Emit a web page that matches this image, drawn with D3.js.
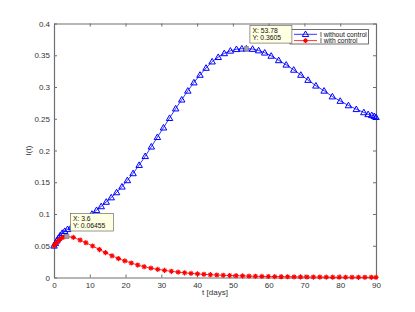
<!DOCTYPE html>
<html lang="en">
<head>
<meta charset="UTF-8">
<title>I(t) with and without control</title>
<script src="https://d3js.org/d3.v7.min.js"></script>
<style>
  body { margin: 0; background: #fff; font-family: "Liberation Sans", Arial, sans-serif; }
  .axis path, .axis line { stroke: #6e6e6e; }
  .axis text { fill: #333; font-size: 8px; font-family: "Liberation Sans", Arial, sans-serif; }
  .tip text { font-size: 6.8px; fill: #111; }
</style>
</head>
<body>
<svg width="415" height="312"></svg>
<script>
// I without control (t in days, I fraction)
const tBlue = [0, 0.4, 0.8, 1.2, 1.7, 2.3, 3.0, 3.8, 4.8, 5.9, 7.0, 8.2, 9.4, 10.6, 11.9, 13.2,
  14.6, 16.0, 17.5, 19.0, 20.5, 22.1, 23.8, 25.5, 27.2, 28.9, 30.6, 32.3, 34.0, 35.7, 37.4,
  39.1, 40.8, 42.5, 44.2, 45.9, 47.6, 49.3, 51.0, 52.5, 53.78, 55.5, 57.2, 58.9, 60.7, 62.8,
  64.9, 67.0, 69.0, 71.0, 73.2, 75.5, 77.8, 80.0, 82.3, 84.5, 86.6, 87.8, 88.8, 89.5, 90];
const iBlue = [0.050, 0.054, 0.058, 0.062, 0.066, 0.070, 0.073, 0.076, 0.079, 0.082, 0.086,
  0.090, 0.095, 0.100, 0.106, 0.112, 0.119, 0.126, 0.134, 0.143, 0.153, 0.164, 0.177, 0.191,
  0.206, 0.221, 0.236, 0.251, 0.266, 0.280, 0.294, 0.307, 0.319, 0.330, 0.340, 0.347, 0.353,
  0.357, 0.3595, 0.3603, 0.3605, 0.3598, 0.3575, 0.354, 0.349, 0.342, 0.335, 0.327, 0.319,
  0.311, 0.302, 0.294, 0.285, 0.278, 0.271, 0.265, 0.260, 0.257, 0.2555, 0.254, 0.2525];

// I with control
const tRed = [0, 0.35, 0.8, 1.4, 2.1, 2.8, 3.6, 5.4, 7.3, 8.9, 10.8, 12.7, 14.4, 16.2, 18.0,
  19.8, 21.6, 23.4, 25.2, 27.1, 29.0, 30.9, 32.8, 34.7, 36.5, 38.3, 40.1, 41.9, 43.7, 45.5,
  47.3, 49.1, 50.9, 52.7, 54.5, 56.3, 58.1, 59.9, 61.7, 63.5, 65.3, 67.1, 68.9, 70.7, 72.5,
  74.3, 76.1, 77.9, 79.7, 81.5, 83.3, 85.1, 86.9, 88.7, 90];
const iRed = [0.050, 0.0525, 0.0555, 0.059, 0.062, 0.0638, 0.06455, 0.0632, 0.059, 0.0548,
  0.0496, 0.044, 0.0392, 0.0342, 0.0298, 0.0262, 0.0228, 0.0196, 0.017, 0.0147, 0.0128,
  0.0112, 0.0098, 0.0085, 0.0074, 0.0065, 0.0057, 0.005, 0.0044, 0.0039, 0.0035, 0.0031,
  0.0028, 0.0025, 0.0022, 0.002, 0.0018, 0.0016, 0.0014, 0.0013, 0.0012, 0.001, 0.0009,
  0.0008, 0.0007, 0.0007, 0.0006, 0.0005, 0.0005, 0.0004, 0.0004, 0.0003, 0.0003, 0.0003, 0.0002];

const xTicks = [0, 10, 20, 30, 40, 50, 60, 70, 80, 90];
const yTicks = [0, 0.05, 0.1, 0.15, 0.2, 0.25, 0.3, 0.35, 0.4];
const yTickLabels = ['0', '0.05', '0.1', '0.15', '0.2', '0.25', '0.3', '0.35', '0.4'];
const seriesNames = ['I without control', 'I with control'];
const tips = [{ t: 53.78, i: 0.3605, lx: '53.78', ly: '0.3605' }, { t: 3.6, i: 0.06455, lx: '3.6', ly: '0.06455' }];

const svg = d3.select('svg');
const margin = { top: 23.5, right: 39, bottom: 34.5, left: 54 };
const width = 415 - margin.left - margin.right;
const height = 312 - margin.top - margin.bottom;
const g = svg.append('g').attr('transform', `translate(${margin.left},${margin.top})`);

const x = d3.scaleLinear().domain([0, 90]).range([0, width]);
const y = d3.scaleLinear().domain([0, 0.4]).range([height, 0]);

// axes, ticks pointing inward (matlab box)
g.append('g').attr('class', 'axis').attr('transform', `translate(0,${height})`)
  .call(d3.axisBottom(x).tickValues(xTicks).tickSizeInner(-3).tickSizeOuter(0).tickPadding(5));
g.append('g').attr('class', 'axis')
  .call(d3.axisLeft(y).tickValues(yTicks).tickFormat((d, i) => yTickLabels[i]).tickSizeInner(-3).tickSizeOuter(0).tickPadding(4));
g.append('g').attr('class', 'axis')
  .call(d3.axisTop(x).tickValues(xTicks).tickSizeInner(-3).tickSizeOuter(0).tickFormat(''));
g.append('g').attr('class', 'axis').attr('transform', `translate(${width},0)`)
  .call(d3.axisRight(y).tickValues(yTicks).tickSizeInner(-3).tickSizeOuter(0).tickFormat(''));
g.selectAll('.axis .domain').attr('stroke-width', 1.2);

const line = d3.line().x(d => x(d[0])).y(d => y(d[1]));
const blue = tBlue.map((t, k) => [t, iBlue[k]]);
const red = tRed.map((t, k) => [t, iRed[k]]);

const tri = d3.symbol().type(d3.symbolTriangle).size(18);
function star(sel, s) {
  sel.append('path')
    .attr('d', `M${-s},0H${s}M0,${-s}V${s}M${-s * 0.7},${-s * 0.7}L${s * 0.7},${s * 0.7}M${-s * 0.7},${s * 0.7}L${s * 0.7},${-s * 0.7}`)
    .attr('stroke', '#ff0000').attr('stroke-width', 1.1).attr('fill', 'none');
}

g.append('path').datum(blue).attr('d', line).attr('fill', 'none').attr('stroke', '#0000ff').attr('stroke-width', 0.8);
g.append('path').datum(red).attr('d', line).attr('fill', 'none').attr('stroke', '#ff0000').attr('stroke-width', 0.8);

g.selectAll('.tri').data(blue).enter().append('path')
  .attr('transform', d => `translate(${x(d[0])},${y(d[1]) + 0.5})`)
  .attr('d', tri).attr('fill', 'none').attr('stroke', '#0000ff').attr('stroke-width', 1);

g.selectAll('.star').data(red).enter().append('g')
  .attr('transform', d => `translate(${x(d[0])},${y(d[1])})`)
  .each(function () { star(d3.select(this), 2.6); });

// legend
const lg = g.append('g').attr('transform', `translate(${290 - margin.left},${29.5 - margin.top})`);
lg.append('rect').attr('width', 78.5).attr('height', 14.5).attr('fill', '#fff').attr('stroke', '#333').attr('stroke-width', 0.7);
[0, 1].forEach(k => {
  const yy = 4.8 + k * 6.3;
  lg.append('line').attr('x1', 4).attr('x2', 27).attr('y1', yy).attr('y2', yy)
    .attr('stroke', k ? '#ff0000' : '#0000ff').attr('stroke-width', 0.8);
  if (k) star(lg.append('g').attr('transform', `translate(15.5,${yy})`), 2.4);
  else lg.append('path').attr('transform', `translate(15.5,${yy + 0.4})`).attr('d', tri)
    .attr('fill', 'none').attr('stroke', '#0000ff').attr('stroke-width', 1);
  lg.append('text').attr('x', 30).attr('y', yy + 2.3).attr('font-size', 6.7).attr('fill', '#111').text(seriesNames[k]);
});

// data tips (on top of legend)
tips.forEach(d => {
  const px = x(d.t), py = y(d.i);
  g.append('rect').attr('x', px - 2.2).attr('y', py - 2.2).attr('width', 4.4).attr('height', 4.4)
    .attr('fill', '#a0a0a0').attr('stroke', '#8a8a8a').attr('stroke-width', 0.5);
  const tip = g.append('g').attr('class', 'tip').attr('transform', `translate(${px + 3.5},${py - 5.5})`);
  const w = d.ly.length > 6 ? 43 : 42;
  tip.append('rect').attr('x', 0).attr('y', -17.5).attr('width', w).attr('height', 17.5)
    .attr('fill', '#ffffe1').attr('stroke', '#555').attr('stroke-width', 0.6);
  tip.append('text').attr('x', 2.5).attr('y', -10.3).text('X: ' + d.lx);
  tip.append('text').attr('x', 2.5).attr('y', -2.6).text('Y: ' + d.ly);
});

// axis labels
svg.append('text').attr('x', margin.left + width / 2).attr('y', 294.5).attr('text-anchor', 'middle')
  .attr('font-size', 8).attr('fill', '#333').text('t [days]');
svg.append('text').attr('transform', `translate(31,150.5) rotate(-90)`).attr('text-anchor', 'middle')
  .attr('font-size', 8).attr('fill', '#333').text('I(t)');
</script>
</body>
</html>
